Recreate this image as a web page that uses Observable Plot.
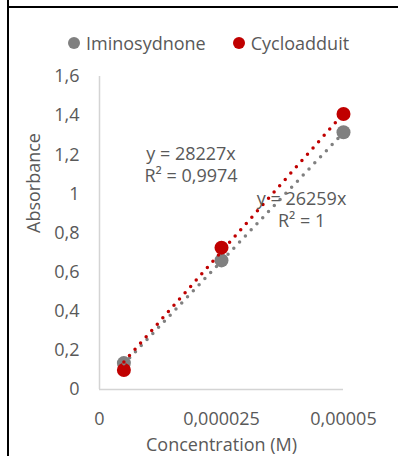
<!DOCTYPE html>
<html>
<head>
<meta charset="utf-8">
<script src="https://cdn.jsdelivr.net/npm/d3@7"></script>
<script src="https://cdn.jsdelivr.net/npm/@observablehq/plot@0.6"></script>
<style>
  html, body { margin: 0; padding: 0; background: #fff; }
  #wrap { position: relative; width: 398px; height: 456px; overflow: hidden; font-family: "Open Sans", sans-serif; color: #595959; }
  #frameLeft { position: absolute; left: 7px; top: 0; width: 2px; height: 456px; background: #000; }
  #frameTop { position: absolute; left: 8px; top: 6px; width: 390px; height: 1.5px; background: #000; }
  #legend { position: absolute; left: 68px; top: 31px; height: 24px; display: flex; align-items: center; font-size: 18px; line-height: 24px; }
  .item { display: flex; align-items: center; margin-right: 27px; }
  .sw { width: 12px; height: 12px; border-radius: 50%; margin-right: 6px; }
  #chart { position: absolute; left: 0; top: 60px; }
</style>
</head>
<body>
<div id="wrap">
  <div id="frameLeft"></div>
  <div id="frameTop"></div>
  <div id="legend"></div>
  <div id="chart"></div>
</div>
<script>
// ---- data ----
const seriesNames = ["Iminosydnone", "Cycloadduit"];
const seriesColors = ["#808080", "#c00000"];
const concentrations = [0.000005, 0.000025, 0.00005];
const iminosydnoneAbs = [0.135, 0.66, 1.315];
const cycloadduitAbs = [0.10, 0.725, 1.408];
// trendline end points (through origin fits, drawn over the data range)
const trendX = [0.000005, 0.00005];
const iminoTrendY = [0.131, 1.313];
const cycloTrendY = [0.141, 1.411];
const equationLabels = ["y = 28227x\nR² = 0,9974", "y = 26259x\nR² = 1"];
const equationX = [0.00001875, 0.0000414];
const equationY = [1.155, 0.925];
const xTicks = [0, 0.000025, 0.00005];
const xTickLabels = ["0", "0,000025", "0,00005"];
const yTicks = [0, 0.2, 0.4, 0.6, 0.8, 1, 1.2, 1.4, 1.6];
const yTickLabels = ["0", "0,2", "0,4", "0,6", "0,8", "1", "1,2", "1,4", "1,6"];
const xTitle = "Concentration (M)";
const yTitle = "Absorbance";

// ---- legend ----
const legend = document.getElementById("legend");
seriesNames.forEach((n, i) => {
  const it = document.createElement("div");
  it.className = "item";
  const sw = document.createElement("span");
  sw.className = "sw";
  sw.style.background = seriesColors[i];
  const tx = document.createElement("span");
  tx.textContent = n;
  it.appendChild(sw); it.appendChild(tx);
  legend.appendChild(it);
});

// ---- tables ----
const points = [];
concentrations.forEach((c, i) => points.push({x: c, y: iminosydnoneAbs[i], s: 0}));
concentrations.forEach((c, i) => points.push({x: c, y: cycloadduitAbs[i], s: 1}));
const trendImino = trendX.map((x, i) => ({x, y: iminoTrendY[i]}));
const trendCyclo = trendX.map((x, i) => ({x, y: cycloTrendY[i]}));
const eqs = equationLabels.map((t, i) => ({t, x: equationX[i], y: equationY[i]}));

const dotted = {strokeWidth: 3.5, strokeDasharray: "0 8.4", strokeLinecap: "round"};

const chart = Plot.plot({
  width: 398,
  height: 396,
  marginTop: 16,
  marginBottom: 67,
  marginLeft: 99,
  marginRight: 55,
  style: {fontFamily: "Open Sans, sans-serif", fontSize: "18px", color: "#595959", background: "transparent", overflow: "visible"},
  x: {domain: [0, 0.00005], ticks: xTicks, tickSize: 0, tickPadding: 23, tickFormat: d => xTickLabels[xTicks.indexOf(d)], label: null},
  y: {domain: [0, 1.6], ticks: yTicks, tickSize: 0, tickPadding: 20, tickFormat: d => yTickLabels[yTicks.indexOf(d)], label: null},
  marks: [
    Plot.ruleX([0], {stroke: "#d4d4d4", strokeWidth: 1.5}),
    Plot.ruleY([0], {stroke: "#d4d4d4", strokeWidth: 1.5}),
    Plot.dot(points.filter(d => d.s === 0), {x: "x", y: "y", r: 7, fill: seriesColors[0], stroke: null}),
    Plot.dot(points.filter(d => d.s === 1), {x: "x", y: "y", r: 7, fill: seriesColors[1], stroke: null}),
    Plot.line(trendImino, {x: "x", y: "y", stroke: seriesColors[0], ...dotted}),
    Plot.line(trendCyclo, {x: "x", y: "y", stroke: seriesColors[1], ...dotted}),
    Plot.text(eqs, {x: "x", y: "y", text: "t", fill: "#595959", fontSize: 18, lineHeight: 1.22, lineAnchor: "middle", textAnchor: "middle"}),
    Plot.text([xTitle], {frameAnchor: "bottom", text: d => d, dy: 56, lineAnchor: "middle", fill: "#595959", fontSize: 18}),
    Plot.text([yTitle], {frameAnchor: "left", text: d => d, dx: -65, rotate: -90, lineAnchor: "middle", fill: "#595959", fontSize: 18})
  ]
});
document.getElementById("chart").appendChild(chart);
</script>
</body>
</html>
